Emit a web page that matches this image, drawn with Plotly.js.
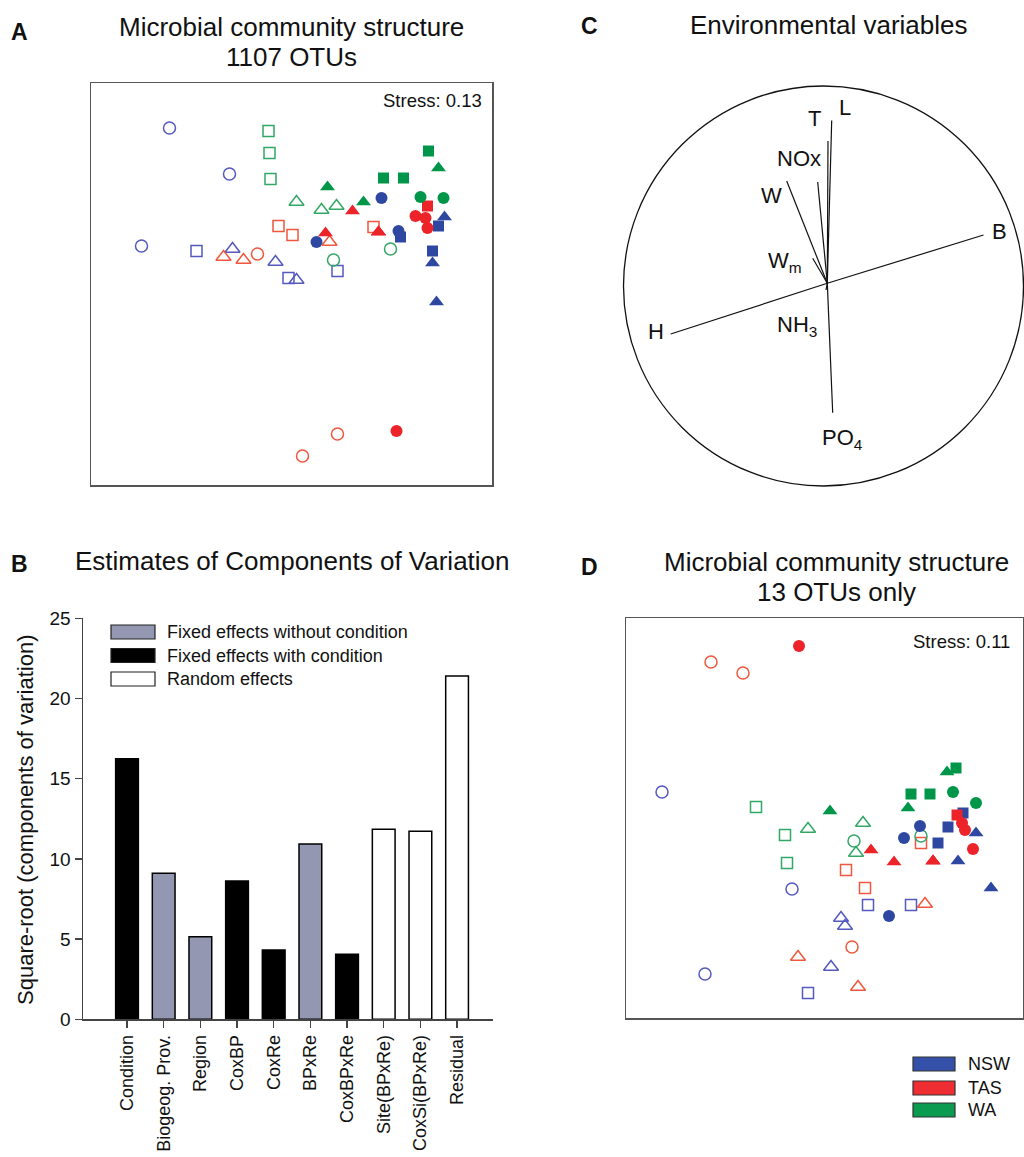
<!DOCTYPE html>
<html>
<head>
<meta charset="utf-8">
<script src="https://cdn.plot.ly/plotly-3.0.1.min.js"></script>
<style>
html,body{margin:0;padding:0;background:#fff;}
#chart{width:1024px;height:1157px;}
</style>
</head>
<body>
<div id="chart"></div>
<script>
// ---------------- DATA ----------------
// Panel A: NMDS, 1107 OTUs
const mdsA_region = ['NSW','NSW','NSW','NSW','NSW','NSW','NSW','NSW','NSW','NSW','NSW','NSW','NSW','NSW','NSW','NSW','NSW','NSW',
  'TAS','TAS','TAS','TAS','TAS','TAS','TAS','TAS','TAS','TAS','TAS','TAS','TAS','TAS','TAS','TAS','TAS','TAS','TAS',
  'WA','WA','WA','WA','WA','WA','WA','WA','WA','WA','WA','WA','WA','WA','WA','WA'];
const mdsA_shape = ['circle','circle','circle','circle','circle','circle','square','square','square','square','square','square','triangle-up','triangle-up','triangle-up','triangle-up','triangle-up','triangle-up',
  'circle','circle','circle','circle','circle','circle','circle','square','square','square','square','triangle-up','triangle-up','triangle-up','triangle-up','triangle-up','triangle-up','triangle-up','triangle-up',
  'circle','circle','circle','circle','square','square','square','square','square','square','triangle-up','triangle-up','triangle-up','triangle-up','triangle-up','triangle-up'];
const mdsA_filled = [0,0,0,1,1,1,0,0,0,1,1,1,0,0,0,1,1,1,
  0,0,0,1,1,1,1,0,0,0,1,0,0,0,1,1,1,1,1,
  0,0,1,1,0,0,0,1,1,1,0,0,0,1,1,1];
const mdsA_x = [-1.22,-0.62,-1.50, 0.90,1.07,0.25, -0.95,0.46,-0.03, 1.47,1.09,1.41, -0.59,-0.16,0.05, 1.53,1.41,1.45,
  -0.34,0.46,0.11, 1.24,1.34,1.36,1.05, -0.13,0.01,0.82, 1.36, 0.38,-0.68,-0.48, 0.34,0.61,0.87, 0.87,0.87,
  0.42,0.99, 1.29,1.52, -0.23,-0.22,-0.21, 1.37,0.92,1.12, 0.05,0.30,0.45, 1.47,0.36,0.72];
const mdsA_y = [1.56,1.10,0.38, 0.86,0.53,0.42, 0.33,0.13,0.06, 0.58,0.47,0.33, 0.35,0.22,0.04, 0.67,0.21,-0.18,
  0.30,-1.50,-1.72, 0.68,0.66,0.56,-1.47, 0.58,0.49,0.57, 0.78, 0.42,0.27,0.24, 0.51,0.73,0.52, 0.52,0.52,
  0.24,0.35, 0.87,0.86, 1.53,1.31,1.05, 1.33,1.06,1.06, 0.82,0.74,0.78, 1.16,0.97,0.82];

// Panel D: NMDS, 13 OTUs only
const mdsD_region = mdsA_region;
const mdsD_shape = mdsA_shape;
const mdsD_filled = mdsA_filled;
const mdsD_x = [-1.63,-0.33,-1.20, 0.95,0.79,0.64, 0.43,0.86,-0.17, 1.38,1.23,1.13, 0.16,0.20,0.06, 1.51,1.33,1.66,
  -1.14,-0.82,0.27, -0.26,1.37,1.40,1.48, 0.96,0.21,0.40, 1.32, 1.00,-0.27,0.33, 0.46,0.69,1.08, 1.08,1.08,
  0.96,0.29, 1.28,1.51, -0.69,-0.40,-0.38, 1.31,0.86,1.05, -0.17,0.38,0.31, 1.22,0.83,0.05];
const mdsD_y = [0.26,-0.71,-1.56, -0.08,-0.20,-0.98, -0.87,-0.87,-1.75, 0.05,-0.09,-0.25, -1.00,-1.08,-1.49, -0.15,-0.43,-0.70,
  1.56,1.45,-1.29, 1.72,-0.05,-0.12,-0.31, -0.25,-0.52,-0.70, 0.03, -0.86,-1.39,-1.69, -0.32,-0.44,-0.43, -0.43,-0.43,
  -0.18,-0.23, 0.26,0.15, 0.11,-0.17,-0.45, 0.50,0.24,0.24, -0.11,-0.05,-0.35, 0.46,0.10,0.07];

// Panel C: environmental vectors
const vecNames = ['L','T','NOx','W','W<sub>m</sub>','B','H','PO<sub>4</sub>','NH<sub>3</sub>'];
const vecX = [0.041, 0.0225, -0.029, -0.184, -0.054, 0.80, -0.764, 0.046, 0.0125];
const vecY = [0.827, 0.725, 0.52, 0.525, 0.139, 0.255, -0.24, -0.634, -0.02];
const vecOriginX = 0.019, vecOriginY = 0.0135;
const circleRadius = 1;

// Panel B: components of variation
const compNames = ['Condition','Biogeog. Prov.','Region','CoxBP','CoxRe','BPxRe','CoxBPxRe','Site(BPxRe)','CoxSi(BPxRe)','Residual'];
const compValues = [16.25, 9.10, 5.15, 8.62, 4.32, 10.93, 4.05, 11.85, 11.72, 21.40];
const compType = ['with','without','without','with','with','without','with','random','random','random'];
const compTypeLabels = {without:'Fixed effects without condition', with:'Fixed effects with condition', random:'Random effects'};
const yTicks = [0,5,10,15,20,25];
const regions = ['NSW','TAS','WA'];

// ---------------- STYLE ----------------
const W = 1024, H = 1157;
const fx = px => px / W;
const fy = py => 1 - py / H;
const FONT = 'Liberation Sans, Arial, Helvetica, sans-serif';
const fillCol = {NSW:'#2E48A2', TAS:'#EC2329', WA:'#009649'};
const openCol = {NSW:'#5459BE', TAS:'#F0573C', WA:'#33A766'};
const legendCol = {NSW:'#3450A8', TAS:'#EE2E32', WA:'#0A9A50'};
const compCol = {without:'#9497B1', with:'#000000', random:'#FFFFFF'};
const symSize = {'circle':12, 'square':11, 'triangle-up':13};

function mdsTraces(xs, ys, reg, shp, fil, xa, ya) {
  const groups = {};
  const order = [];
  for (let i = 0; i < xs.length; i++) {
    const k = reg[i] + '|' + shp[i] + '|' + fil[i];
    if (!groups[k]) { groups[k] = {x:[], y:[], r:reg[i], s:shp[i], f:fil[i]}; order.push(k); }
    groups[k].x.push(xs[i]); groups[k].y.push(ys[i]);
  }
  order.sort((a,b) => groups[a].f - groups[b].f);
  return order.map(k => {
    const g = groups[k];
    return {
      type:'scatter', mode:'markers', x:g.x, y:g.y, xaxis:xa, yaxis:ya,
      showlegend:false, hoverinfo:'skip',
      marker: g.f ? {symbol:g.s, size:symSize[g.s], color:fillCol[g.r], line:{width:0}}
                  : {symbol:g.s + '-open', size:symSize[g.s], color:openCol[g.r], line:{width:1.5, color:openCol[g.r]}}
    };
  });
}

const traces = [];
traces.push(...mdsTraces(mdsA_x, mdsA_y, mdsA_region, mdsA_shape, mdsA_filled, 'x', 'y'));
traces.push(...mdsTraces(mdsD_x, mdsD_y, mdsD_region, mdsD_shape, mdsD_filled, 'x2', 'y2'));

// Panel C vectors
const vx = [], vy = [];
for (let i = 0; i < vecX.length; i++) { vx.push(vecOriginX, vecX[i], null); vy.push(vecOriginY, vecY[i], null); }
traces.push({type:'scatter', mode:'lines', x:vx, y:vy, xaxis:'x3', yaxis:'y3', showlegend:false, hoverinfo:'skip',
  line:{color:'#111', width:1.2}});

// Panel B bars
traces.push({type:'bar', x:compNames, y:compValues, xaxis:'x4', yaxis:'y4', width:0.62, showlegend:false, hoverinfo:'skip',
  marker:{color:compType.map(t => compCol[t]), line:{color:'#000', width:1.5}}});

const boxAxis = {showline:true, mirror:true, linecolor:'#555', linewidth:1.5, showgrid:false, zeroline:false,
  showticklabels:false, ticks:'', fixedrange:true};
const hidden = {visible:false, showgrid:false, zeroline:false, fixedrange:true};

const annotations = [];
function txt(text, px, py, size, opts) {
  annotations.push(Object.assign({text:text, x:fx(px), y:fy(py), xref:'paper', yref:'paper', showarrow:false,
    xanchor:'center', yanchor:'middle', font:{family:FONT, size:size, color:'#111'}}, opts || {}));
}
// panel letters & titles
txt('<b>A</b>', 19, 32, 23);
txt('<b>C</b>', 589, 26, 23);
txt('<b>B</b>', 19, 564, 23);
txt('<b>D</b>', 589, 567, 23);
txt('Microbial community structure', 291, 27, 26);
txt('1107 OTUs', 291, 57, 26);
txt('Environmental variables', 828, 25, 26);
txt('Estimates of Components of Variation', 292, 561, 26);
txt('Microbial community structure', 836, 562, 26);
txt('13 OTUs only', 836, 592, 26);
txt('Stress: 0.13', 484, 101, 18.5, {xanchor:'right'});
txt('Stress: 0.11', 1012, 641, 18.5, {xanchor:'right'});
txt('Square-root (components of variation)', 25, 820, 22, {textangle:-90});

// Panel C labels
const labShift = [[13,13],[-14,22],[-19,23],[-15,-15],[-28,-4],[16,3],[-15,2],[10,-26],[-29,-36]];
for (let i = 0; i < vecNames.length; i++) {
  annotations.push({text:vecNames[i], x:vecX[i], y:vecY[i], xref:'x3', yref:'y3', showarrow:false,
    xshift:labShift[i][0], yshift:labShift[i][1], font:{family:FONT, size:22, color:'#111'}});
}

const shapes = [];
shapes.push({type:'circle', xref:'x3', yref:'y3', x0:-circleRadius, y0:-circleRadius, x1:circleRadius, y1:circleRadius,
  line:{color:'#111', width:1.3}});

// Panel B legend
const legTypes = ['without','with','random'];
const legY = [632, 655.5, 679];
legTypes.forEach((t, i) => {
  shapes.push({type:'rect', xref:'paper', yref:'paper', x0:fx(111), x1:fx(155), y0:fy(legY[i]+7), y1:fy(legY[i]-7),
    fillcolor:compCol[t], line:{color:'#222', width:1.2}});
  txt(compTypeLabels[t], 165, legY[i], 18, {xanchor:'left'});
});

// Region legend
const regY = [1064, 1088, 1110];
regions.forEach((r, i) => {
  shapes.push({type:'rect', xref:'paper', yref:'paper', x0:fx(913), x1:fx(955), y0:fy(regY[i]+7), y1:fy(regY[i]-7),
    fillcolor:legendCol[r], line:{color:'#333', width:1.2}});
  txt(r, 966, regY[i], 18, {xanchor:'left'});
});

const layout = {
  width:W, height:H, margin:{l:0, r:0, t:0, b:0}, paper_bgcolor:'#fff', plot_bgcolor:'rgba(0,0,0,0)',
  showlegend:false, font:{family:FONT, color:'#111'},
  xaxis: Object.assign({}, boxAxis, {domain:[fx(91), fx(492)], range:[-2.005, 2.005], anchor:'y'}),
  yaxis: Object.assign({}, boxAxis, {domain:[fy(485), fy(83)], range:[-2.01, 2.01], anchor:'x'}),
  xaxis2: Object.assign({}, boxAxis, {domain:[fx(626), fx(1023)], range:[-1.99, 1.98], anchor:'y2'}),
  yaxis2: Object.assign({}, boxAxis, {domain:[fy(1018), fy(618)], range:[-2.0, 2.0], anchor:'x2'}),
  xaxis3: Object.assign({}, hidden, {domain:[fx(620), 1], range:[-1.0175, 1.0025], anchor:'y3'}),
  yaxis3: Object.assign({}, hidden, {domain:[fy(492), fy(80)], range:[-1.03, 1.03], anchor:'x3'}),
  xaxis4: {domain:[fx(83), fx(493)], range:[-1.2, 9.98], anchor:'y4', type:'category', showline:true, linecolor:'#444', linewidth:1.5,
    ticks:'outside', ticklen:7, tickwidth:1.5, tickcolor:'#444', tickangle:-90, showgrid:false, zeroline:false, fixedrange:true,
    tickfont:{family:FONT, size:18, color:'#111'}},
  yaxis4: {domain:[fy(1019.3), fy(618.3)], range:[0, 25], anchor:'x4', showline:true, linecolor:'#444', linewidth:1.5,
    ticks:'outside', ticklen:7, tickwidth:1.5, tickcolor:'#444', tickvals:yTicks, showgrid:false, zeroline:false, fixedrange:true,
    tickfont:{family:FONT, size:19, color:'#111'}},
  annotations: annotations,
  shapes: shapes
};

Plotly.newPlot('chart', traces, layout, {staticPlot:true, displayModeBar:false});
</script>
</body>
</html>
